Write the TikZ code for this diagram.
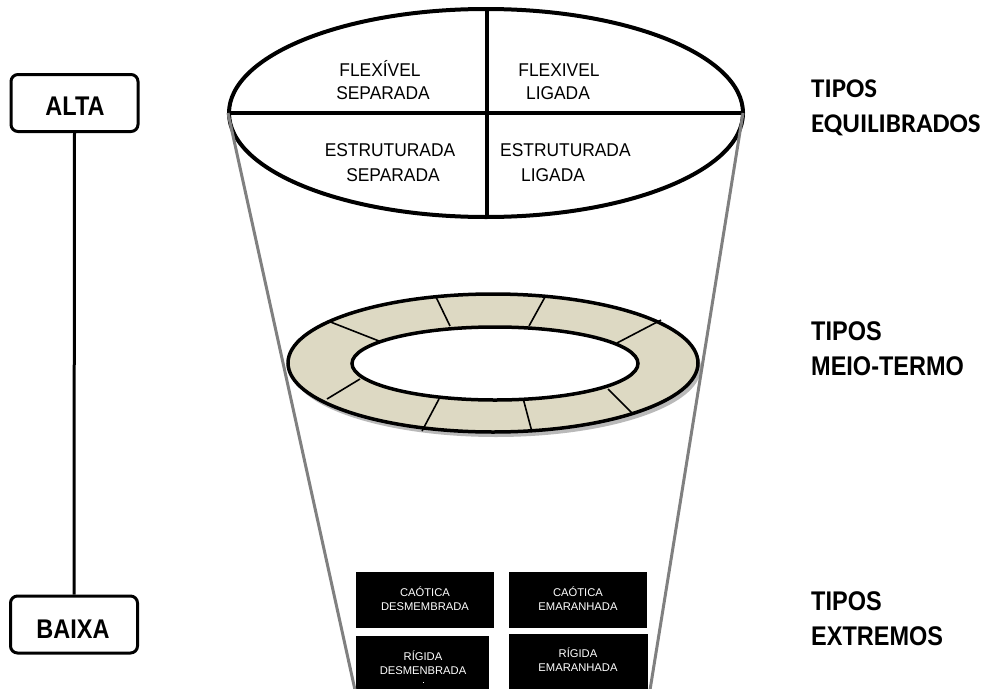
\documentclass[tikz,border=0pt]{standalone}
\usepackage{fontspec}
\setmainfont{Liberation Sans}
\newfontfamily\arialN[FakeStretch=0.87]{Liberation Sans}
\newfontfamily\arialE[FakeStretch=0.94]{Liberation Sans}
\newfontfamily\calib{Carlito}
\definecolor{tan}{RGB}{221,217,195}
\definecolor{funnel}{RGB}{128,128,128}
\begin{document}
\begin{tikzpicture}[x=1pt,y=-1pt,
  scalebox/.style={draw,line width=3pt,rounded corners=7pt,minimum width=127pt,minimum height=57pt,inner sep=0pt},
  lvl/.style={font=\arialN\bfseries\fontsize{27}{32}\selectfont,anchor=base west,inner sep=0pt},
  eq/.style={font=\calib\bfseries\fontsize{27}{32}\selectfont,anchor=base west,inner sep=0pt},
  cell/.style={font=\arialE\fontsize{18.5}{22}\selectfont,anchor=base,inner sep=0pt},
  blk/.style={fill=black,draw=none},
  blktxt/.style={font=\fontsize{11.2}{13}\selectfont,text=white,anchor=base,inner sep=0pt},
  ringline/.style={line width=1.6pt},
  funnelline/.style={draw=funnel,line width=3pt}]
\useasboundingbox (0,0) rectangle (1000,688);
\clip (0,0) rectangle (1000,688);
% scale on the left
\node[scalebox] (alta) at (74.5,103) {};
\node[font=\arialN\bfseries\fontsize{27}{32}\selectfont,anchor=base,inner sep=0pt] (altat) at (75,115) {ALTA};
\node[scalebox] (baixa) at (74,624.5) {};
\node[font=\arialN\bfseries\fontsize{27}{32}\selectfont,anchor=base,inner sep=0pt] (baixat) at (73,638) {BAIXA};
\draw[line width=3pt] (alta.south) -- (baixa.north);
% extreme boxes
\fill[blk] (356,572) rectangle (494,628);
\fill[blk] (509,572) rectangle (647,628);
\fill[blk] (356,636) rectangle (489,700);
\fill[blk] (509,634) rectangle (648,700);
\node[blktxt] (c1a) at (425,596.5) {CAÓTICA};
\node[blktxt] (c1b) at (425,610.5) {DESMEMBRADA};
\node[blktxt] (c2a) at (578,596.5) {CAÓTICA};
\node[blktxt] (c2b) at (578,610.5) {EMARANHADA};
\node[blktxt] (r1a) at (423,660) {RÍGIDA};
\node[blktxt] (r1b) at (423,674) {DESMENBRADA};
\fill[white] (422.5,681.5) rectangle (424,683);
\node[blktxt] (r2a) at (578,657) {RÍGIDA};
\node[blktxt] (r2b) at (578,671.5) {EMARANHADA};
% ring
\fill[gray!55] (496,368) ellipse [x radius=205, y radius=69];
\fill[tan] (493,363) ellipse [x radius=205, y radius=69];
\draw[ringline] (328,321) -- (379,341);
\draw[ringline] (436,297) -- (450,326);
\draw[ringline] (545,297) -- (529,326);
\draw[ringline] (661,320) -- (617,343);
\draw[ringline] (360,379) -- (327,399);
\draw[ringline] (439,399) -- (422,431);
\draw[ringline] (523,398) -- (532,432);
\draw[ringline] (608,389) -- (632,413);
\draw[line width=3.5pt] (493,363) ellipse [x radius=205, y radius=69];
\draw[line width=3.5pt,fill=white] (495,363.5) ellipse [x radius=143, y radius=36.5];
% top ellipse
\draw[line width=4pt] (486,113) ellipse [x radius=257, y radius=104];
\draw[line width=3.5pt] (229,113) -- (743,113);
\draw[line width=3.5pt] (487,9) -- (487,217);
\node[cell] (f1a) at (380,76) {FLEXÍVEL};
\node[cell] (f1b) at (383,99) {SEPARADA};
\node[cell] (f2a) at (559,76) {FLEXIVEL};
\node[cell] (f2b) at (558,99) {LIGADA};
\node[cell] (e1a) at (390,156) {ESTRUTURADA};
\node[cell] (e1b) at (393,181) {SEPARADA};
\node[cell,anchor=base west] (e2a) at (500,156) {ESTRUTURADA};
\node[cell,anchor=base west] (e2b) at (521,181) {LIGADA};
% funnel
\coordinate (fl0) at (228,113);
\coordinate (fl1) at (355,690);
\coordinate (fr0) at (743,113);
\coordinate (fr1) at (650,690);
\draw[funnelline] (fl0) -- (fl1);
\draw[funnelline] (fr0) -- (fr1);
% right labels
\node[eq] (t1a) at (811,97) {TIPOS};
\node[eq] (t1b) at (811,132) {EQUILIBRADOS};
\node[lvl] (t2a) at (811,340) {TIPOS};
\node[lvl] (t2b) at (811,375) {MEIO-TERMO};
\node[lvl] (t3a) at (811,610) {TIPOS};
\node[lvl] (t3b) at (811,645) {EXTREMOS};
\end{tikzpicture}
\end{document}
